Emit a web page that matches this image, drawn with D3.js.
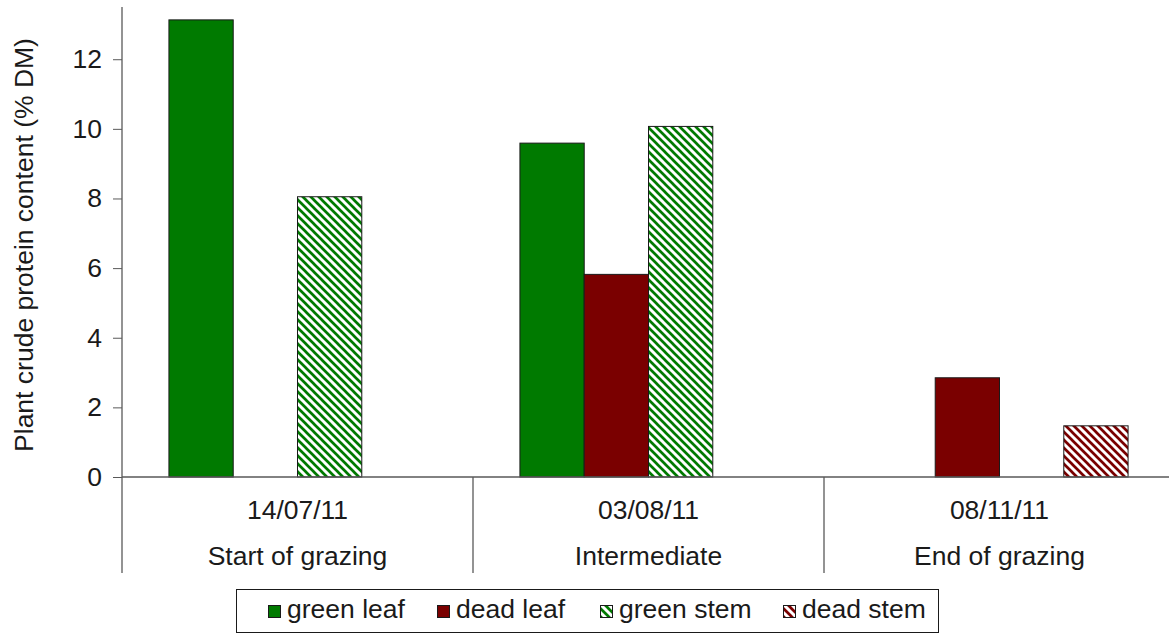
<!DOCTYPE html>
<html>
<head>
<meta charset="utf-8">
<script src="https://cdn.jsdelivr.net/npm/d3@7"></script>
<style>
  html, body { margin: 0; padding: 0; background: #fff; }
  svg { display: block; font-family: "Liberation Sans", Arial, sans-serif; }
</style>
</head>
<body>
<svg id="chart" width="1169" height="634"></svg>
<script>
// ---- data ----
const dates = ["14/07/11", "03/08/11", "08/11/11"];
const stages = ["Start of grazing", "Intermediate", "End of grazing"];
const seriesNames = ["green leaf", "dead leaf", "green stem", "dead stem"];
const greenLeaf = [13.13, 9.59, 0];
const deadLeaf  = [0, 5.82, 2.85];
const greenStem = [8.05, 10.07, 0];
const deadStem  = [0, 0, 1.47];
const yTicks = [0, 2, 4, 6, 8, 10, 12];
const yTitle = "Plant crude protein content (% DM)";

const seriesValues = [greenLeaf, deadLeaf, greenStem, deadStem];
const seriesColors = ["#007a00", "#7a0000", "#007a00", "#7a0000"];
const seriesHatched = [false, false, true, true];

const FS = 26.5;
const svg = d3.select("#chart");
const defs = svg.append("defs");

// hatch patterns
const P = 8;
seriesNames.forEach((s, i) => {
  if (!seriesHatched[i]) return;
  const p = defs.append("pattern")
    .attr("id", "hatch" + i)
    .attr("patternUnits", "userSpaceOnUse")
    .attr("width", P).attr("height", P);
  p.append("rect").attr("width", P).attr("height", P).attr("fill", "#fff");
  p.append("path")
    .attr("d", `M-2,-2 L${P + 2},${P + 2} M-2,${P - 2} L2,${P + 2} M${P - 2},-2 L${P + 2},2`)
    .attr("stroke", seriesColors[i])
    .attr("stroke-width", 2.7);
});
const fillFor = i => seriesHatched[i] ? `url(#hatch${i})` : seriesColors[i];

// scales
const x0 = d3.scaleBand().domain(d3.range(dates.length)).range([122, 1175]).paddingInner(0).paddingOuter(0);
const x1 = d3.scaleBand().domain(d3.range(seriesNames.length)).range([0, x0.bandwidth()]).paddingInner(0).paddingOuter(0.73);
const y = d3.scaleLinear().domain([0, 13.5]).range([477, 7]);

const axisColor = "#595959";

// bars
const groups = svg.append("g").selectAll("g")
  .data(d3.range(dates.length))
  .join("g")
  .attr("transform", d => `translate(${x0(d)},0)`);

groups.selectAll("rect")
  .data(gi => seriesValues.map((vals, si) => ({ si, v: vals[gi] })).filter(d => d.v > 0))
  .join("rect")
  .attr("x", d => x1(d.si))
  .attr("y", d => y(d.v))
  .attr("width", x1.bandwidth())
  .attr("height", d => y(0) - y(d.v))
  .attr("fill", d => fillFor(d.si))
  .attr("stroke", "#1a1a1a")
  .attr("stroke-width", 1);

// y axis
const yAxis = d3.axisLeft(y).tickValues(yTicks).tickSize(9).tickPadding(11).tickFormat(d3.format("d"));
const gy = svg.append("g").attr("transform", "translate(122,0)").call(yAxis);
gy.select(".domain").remove();
gy.selectAll(".tick line").attr("stroke", axisColor);
gy.selectAll(".tick text").attr("font-size", FS).attr("fill", "#1a1a1a").attr("font-family", "Liberation Sans, Arial, sans-serif");
svg.append("line")
  .attr("x1", 122).attr("x2", 122).attr("y1", y.range()[1]).attr("y2", 573)
  .attr("stroke", axisColor).attr("stroke-width", 1.3);

// x axis line
svg.append("line")
  .attr("x1", 122).attr("x2", 1169).attr("y1", y(0)).attr("y2", y(0))
  .attr("stroke", axisColor).attr("stroke-width", 1.3);

// group dividers
svg.append("g").selectAll("line")
  .data(d3.range(1, dates.length))
  .join("line")
  .attr("x1", d => x0(d)).attr("x2", d => x0(d))
  .attr("y1", y(0)).attr("y2", 573)
  .attr("stroke", axisColor).attr("stroke-width", 1.3);

// category labels
svg.append("g").selectAll("text")
  .data(dates)
  .join("text")
  .attr("x", (d, i) => x0(i) + x0.bandwidth() / 2)
  .attr("y", 519)
  .attr("text-anchor", "middle")
  .attr("font-size", FS)
  .attr("fill", "#1a1a1a")
  .text(d => d);

svg.append("g").selectAll("text")
  .data(stages)
  .join("text")
  .attr("x", (d, i) => x0(i) + x0.bandwidth() / 2)
  .attr("y", 565)
  .attr("text-anchor", "middle")
  .attr("font-size", FS)
  .attr("fill", "#1a1a1a")
  .text(d => d);

// y title
svg.append("text")
  .attr("transform", "translate(33,245) rotate(-90)")
  .attr("text-anchor", "middle")
  .attr("font-size", FS)
  .attr("fill", "#1a1a1a")
  .text(yTitle);

// legend
const legend = svg.append("g");
legend.append("rect")
  .attr("x", 236.5).attr("y", 589.5).attr("width", 702).attr("height", 43)
  .attr("fill", "#fff").attr("stroke", "#1a1a1a").attr("stroke-width", 1);
const legendX = [268, 437, 600, 783];
const items = legend.selectAll("g.item")
  .data(seriesNames)
  .join("g")
  .attr("class", "item")
  .attr("transform", (d, i) => `translate(${legendX[i]},0)`);
items.append("rect")
  .attr("x", 0.5).attr("y", 605.5).attr("width", 12).attr("height", 12)
  .attr("fill", (d, i) => fillFor(i))
  .attr("stroke", "#1a1a1a").attr("stroke-width", 1);
items.append("text")
  .attr("x", 19).attr("y", 618)
  .attr("font-size", FS)
  .attr("fill", "#1a1a1a")
  .text(d => d);
</script>
</body>
</html>
